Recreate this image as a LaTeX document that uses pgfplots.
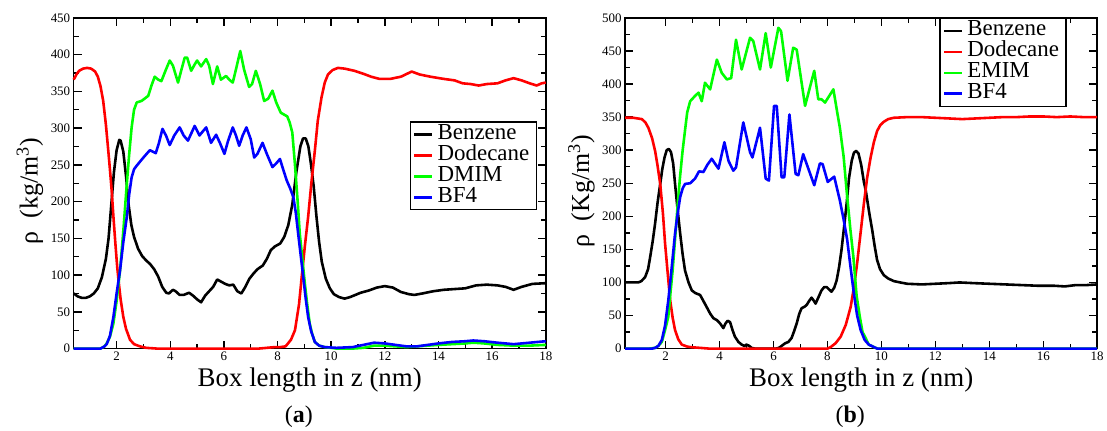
\documentclass[border=0pt]{standalone}
\usepackage{fontspec}
\setmainfont{Liberation Serif}
\usepackage{pgfplots}
\pgfplotsset{compat=1.18}
\definecolor{cblack}{RGB}{0,0,0}
\definecolor{cred}{RGB}{255,0,0}
\definecolor{cgreen}{RGB}{0,255,0}
\definecolor{cblue}{RGB}{0,0,255}

\pgfplotsset{
  rhoaxis/.style={
    scale only axis, width=474pt, height=332pt,
    axis line style={line width=1.6pt},
    tick style={line width=1.4pt, black},
    major tick length=8pt, minor tick length=5pt,
    tick align=inside, tick pos=both,
    xtick={2,4,...,18}, minor x tick num=1,
    minor y tick num=1,
    xmax=18, ymin=0,
    tick label style={font=\fontsize{13}{13}\selectfont},
    /pgf/number format/assume math mode=true,
    every axis plot/.append style={line width=2.6pt, line join=round},
    clip=false,
    legend cell align=left,
    legend style={draw=black, line width=1.2pt,
      font=\fontsize{23}{23}\selectfont,
      inner xsep=3pt, inner ysep=2pt, row sep=0pt,
      nodes={inner xsep=4pt, inner ysep=0pt, text height=15.5pt, text depth=5.5pt}},
    legend image code/.code={\draw[##1, line width=2.6pt] (0pt,0pt) -- (18pt,0pt);},
    every axis x label/.style={at={(axis description cs:0.5,-0.1145)}, anchor=base,
      font=\fontsize{27}{27}\selectfont},
    every axis y label/.style={at={(axis description cs:-0.0928,0.476)}, rotate=90,
      anchor=center, font=\fontsize{26}{26}\selectfont},
    xlabel={Box length in z (nm)},
  }
}

\begin{document}
\begin{tikzpicture}
% ---------------- panel (a)
\begin{axis}[rhoaxis, at={(0pt,0pt)}, anchor=south west,
  xmin=0.4, ymax=450, ytick={0,50,...,450},
  ylabel={ρ\ \ (kg/m\textsuperscript{3})},
  legend style={at={(0.981,0.687)}, anchor=north east}]
\addplot[cblack] coordinates {
(0.4,75)(0.55,71)(0.7,69)(0.85,69)(1.0,71)(1.15,75)(1.3,82)(1.45,97)(1.6,122)(1.7,150)(1.8,195)(1.9,240)(2.0,270)(2.1,284)(2.15,283)(2.25,268)(2.35,235)(2.45,195)(2.55,168)(2.65,152)(2.8,136)(2.95,126)(3.1,120)(3.25,115)(3.4,108)(3.55,98)(3.7,84)(3.85,76)(3.95,75)(4.1,80)(4.2,78)(4.35,73)(4.5,73)(4.7,76)(4.85,72)(5.0,67)(5.15,63)(5.3,72)(5.45,78)(5.6,84)(5.75,94)(5.9,91)(6.05,88)(6.2,86)(6.35,87)(6.5,78)(6.65,75)(6.8,84)(6.95,95)(7.1,102)(7.25,108)(7.45,113)(7.6,122)(7.75,134)(7.9,139)(8.1,143)(8.25,152)(8.4,168)(8.55,196)(8.7,240)(8.85,275)(8.95,286)(9.05,286)(9.15,275)(9.25,250)(9.35,220)(9.45,180)(9.55,145)(9.65,118)(9.8,95)(9.95,82)(10.1,74)(10.3,70)(10.5,68)(10.7,70)(10.9,73)(11.1,76)(11.4,79)(11.7,83)(12.0,85)(12.3,83)(12.6,77)(12.9,74)(13.1,73)(13.4,75)(13.8,78)(14.2,80)(14.6,81)(15.0,82)(15.4,86)(15.8,87)(16.2,86)(16.5,84)(16.8,80)(17.1,84)(17.5,88)(18,89)};
\addplot[cred] coordinates {
(0.4,366)(0.5,373)(0.6,378)(0.75,381)(0.9,382)(1.05,381)(1.2,377)(1.3,370)(1.4,357)(1.5,337)(1.6,305)(1.7,265)(1.76,240)(1.82,213)(1.88,180)(1.95,145)(2.02,112)(2.08,90)(2.15,67)(2.25,43)(2.35,27)(2.5,12)(2.65,6)(2.87,3)(3.1,1)(3.5,0)(7.3,0)(7.6,1)(7.9,2)(8.1,2)(8.3,3)(8.5,12)(8.65,25)(8.8,60)(8.9,97)(9.02,140)(9.14,179)(9.26,225)(9.39,269)(9.5,310)(9.64,342)(9.76,362)(9.88,373)(10.05,379)(10.25,382)(10.5,381)(10.87,378)(11.2,374)(11.49,370)(11.8,367)(12.2,367)(12.6,370)(13.0,377)(13.3,373)(13.7,370)(14.2,367)(14.6,365)(14.9,361)(15.2,360)(15.5,358)(15.8,360)(16.2,361)(16.5,365)(16.8,368)(17.1,365)(17.4,361)(17.66,358)(17.85,361)(18,362)};
\addplot[cgreen] coordinates {
(0.4,0)(1.4,0)(1.55,3)(1.63,7)(1.75,16)(1.88,34)(2.0,65)(2.13,107)(2.25,160)(2.38,224)(2.47,265)(2.56,301)(2.65,325)(2.75,335)(2.93,337)(3.18,344)(3.3,358)(3.42,370)(3.55,366)(3.67,364)(3.82,378)(3.98,392)(4.1,385)(4.29,362)(4.42,380)(4.54,396)(4.63,396)(4.78,378)(4.9,386)(5.0,392)(5.15,384)(5.34,394)(5.45,385)(5.59,360)(5.75,384)(5.89,366)(6.08,371)(6.2,366)(6.33,362)(6.45,380)(6.61,405)(6.75,380)(6.94,356)(7.05,360)(7.19,378)(7.35,360)(7.5,337)(7.65,340)(7.81,351)(7.95,335)(8.12,321)(8.36,316)(8.45,308)(8.55,294)(8.65,250)(8.75,200)(8.83,156)(8.93,120)(9.02,88)(9.1,62)(9.2,34)(9.29,20)(9.39,9)(9.55,4)(9.76,2)(10.2,0)(10.8,0)(11.2,1)(11.6,4)(12.0,4)(12.4,3)(12.8,2)(13.2,3)(13.6,4)(14.0,5)(14.5,6)(15.0,7)(15.3,8)(15.7,7)(16.2,5)(16.8,4)(17.4,4)(18,5)};
\addplot[cblue] coordinates {
(0.4,0)(1.4,0)(1.55,3)(1.63,6)(1.75,17)(1.88,43)(2.0,75)(2.13,107)(2.25,145)(2.38,179)(2.47,210)(2.56,233)(2.65,244)(2.75,249)(3.0,260)(3.24,270)(3.46,266)(3.58,280)(3.71,299)(3.84,290)(3.98,277)(4.15,290)(4.35,301)(4.5,290)(4.66,283)(4.91,303)(5.09,290)(5.2,295)(5.34,301)(5.52,280)(5.71,291)(5.85,280)(6.02,265)(6.15,282)(6.33,301)(6.45,290)(6.57,276)(6.7,290)(6.84,301)(7.0,285)(7.13,260)(7.25,265)(7.44,280)(7.6,265)(7.81,247)(7.95,252)(8.09,258)(8.2,245)(8.34,229)(8.47,218)(8.59,206)(8.68,185)(8.77,156)(8.87,125)(8.96,97)(9.05,68)(9.14,43)(9.25,24)(9.39,9)(9.55,4)(9.76,2)(10.2,1)(10.8,2)(11.2,5)(11.6,8)(12.0,7)(12.4,5)(12.8,3)(13.2,3)(13.6,5)(14.0,7)(14.5,9)(15.0,10)(15.3,11)(15.7,10)(16.2,8)(16.8,6)(17.4,8)(18,10)};
\legend{Benzene, Dodecane, DMIM, BF4}
\node[anchor=base, font=\fontsize{24}{24}\selectfont] at (axis description cs:0.477,-0.2229) {(\textbf{a})};
\end{axis}
% ---------------- panel (b)
\begin{axis}[rhoaxis, at={(553.7pt,0pt)}, anchor=south west,
  xmin=0.5, ymax=500, ytick={0,50,...,500},
  ylabel={ρ\ \ (Kg/m\textsuperscript{3})},
  legend style={at={(0.935,1.0)}, anchor=north east}]
\addplot[cblack] coordinates {
(0.5,100)(0.75,100)(0.99,100)(1.1,102)(1.24,108)(1.35,120)(1.43,139)(1.52,162)(1.61,189)(1.7,220)(1.8,249)(1.88,272)(1.96,289)(2.04,300)(2.12,302)(2.2,297)(2.28,280)(2.35,249)(2.45,208)(2.54,174)(2.63,143)(2.72,118)(2.85,100)(2.97,88)(3.1,84)(3.28,81)(3.4,72)(3.52,63)(3.65,53)(3.77,46)(3.9,43)(4.02,38)(4.14,31)(4.22,38)(4.3,42)(4.39,40)(4.48,28)(4.57,18)(4.7,10)(4.82,6)(4.92,4)(5.0,6)(5.1,4)(5.19,1)(5.3,0)(6.1,0)(6.2,1)(6.3,4)(6.43,8)(6.55,10)(6.67,16)(6.77,27)(6.86,38)(6.95,52)(7.04,61)(7.14,63)(7.23,66)(7.32,72)(7.41,77)(7.5,72)(7.56,68)(7.67,78)(7.78,88)(7.88,93)(7.97,93)(8.07,89)(8.15,86)(8.25,92)(8.34,103)(8.43,123)(8.52,149)(8.62,185)(8.71,219)(8.8,258)(8.9,284)(8.98,296)(9.06,299)(9.15,295)(9.25,278)(9.35,252)(9.42,239)(9.55,205)(9.66,179)(9.75,155)(9.84,134)(9.95,120)(10.09,111)(10.25,106)(10.46,102)(10.7,100)(10.95,98)(11.5,97)(12.0,98)(12.5,99)(12.9,100)(13.4,99)(14.0,98)(14.6,97)(15.2,96)(15.8,95)(16.4,95)(16.8,94)(17.2,96)(17.6,96)(18,97)};
\addplot[cred] coordinates {
(0.5,349)(0.8,349)(1.12,347)(1.25,342)(1.36,334)(1.5,318)(1.61,299)(1.7,277)(1.8,249)(1.9,205)(1.98,159)(2.08,113)(2.17,73)(2.26,47)(2.35,28)(2.47,14)(2.6,6)(2.8,3)(2.97,2)(3.3,1)(3.6,0)(8.0,0)(8.11,2)(8.3,8)(8.49,18)(8.68,36)(8.86,63)(8.98,92)(9.1,129)(9.22,172)(9.35,219)(9.47,258)(9.6,289)(9.72,312)(9.84,329)(9.96,338)(10.09,343)(10.25,347)(10.46,349)(10.95,350)(11.5,350)(12.0,349)(12.5,348)(13.0,347)(13.5,348)(14.0,349)(14.5,350)(15.0,350)(15.5,351)(16.0,351)(16.5,350)(17.0,351)(17.5,350)(18,350)};
\addplot[cgreen] coordinates {
(0.5,0)(1.4,0)(1.6,1)(1.73,4)(1.86,10)(1.98,28)(2.1,48)(2.17,80)(2.26,118)(2.35,165)(2.45,219)(2.54,262)(2.63,299)(2.72,330)(2.8,357)(2.91,374)(3.09,382)(3.22,387)(3.34,374)(3.46,402)(3.65,392)(3.9,437)(4.08,417)(4.27,407)(4.43,409)(4.61,467)(4.82,422)(5.13,470)(5.25,465)(5.5,422)(5.71,477)(5.9,425)(6.18,485)(6.28,480)(6.52,405)(6.73,455)(6.86,452)(7.17,367)(7.51,420)(7.66,377)(7.78,377)(7.91,372)(8.22,392)(8.35,360)(8.46,334)(8.6,290)(8.71,239)(8.85,180)(8.96,139)(9.08,80)(9.2,48)(9.3,25)(9.39,18)(9.53,6)(9.84,0)(18,0)};
\addplot[cblue] coordinates {
(0.5,0)(1.5,0)(1.61,1)(1.73,4)(1.86,13)(1.98,35)(2.1,73)(2.22,120)(2.35,174)(2.45,205)(2.54,229)(2.63,242)(2.72,249)(2.91,250)(3.09,257)(3.24,268)(3.4,267)(3.55,278)(3.71,287)(3.96,272)(4.18,312)(4.33,284)(4.51,269)(4.61,274)(4.88,342)(5.13,297)(5.22,289)(5.5,334)(5.71,257)(5.83,254)(6.02,367)(6.12,367)(6.3,259)(6.4,259)(6.59,354)(6.82,264)(6.92,262)(7.1,294)(7.51,247)(7.72,280)(7.82,279)(8.01,252)(8.25,260)(8.46,224)(8.6,195)(8.73,165)(8.85,125)(8.98,83)(9.1,50)(9.23,28)(9.38,13)(9.53,6)(9.84,0)(18,0)};
\legend{Benzene, Dodecane, EMIM, BF4}
\node[anchor=base, font=\fontsize{24}{24}\selectfont] at (axis description cs:0.477,-0.2229) {(\textbf{b})};
\end{axis}
\path (-74pt,-82pt) rectangle (1033pt,350pt);
\end{tikzpicture}
\end{document}
